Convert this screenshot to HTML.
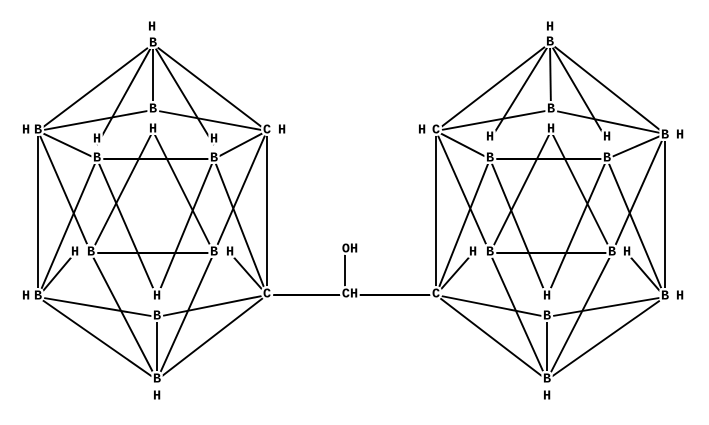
<!DOCTYPE html>
<html><head><meta charset="utf-8"><style>
html,body{margin:0;padding:0;background:#fff;}
svg{display:block}
text{font-family:"Liberation Mono","DejaVu Sans Mono",monospace;font-size:13.5px;font-weight:bold;fill:#000;text-anchor:middle;dominant-baseline:central;paint-order:stroke;stroke:#fff;stroke-width:5px;stroke-linejoin:round}
line{stroke:#000;stroke-width:1.9}
</style></head><body>
<svg width="709" height="425" viewBox="0 0 709 425">
<g>
<line x1="153" y1="44" x2="38" y2="131"/><line x1="153" y1="44" x2="153" y2="110"/><line x1="153" y1="44" x2="97" y2="145"/><line x1="153" y1="44" x2="214" y2="145"/><line x1="153" y1="44" x2="267" y2="131"/>
<line x1="153" y1="110" x2="38" y2="131"/><line x1="153" y1="110" x2="267" y2="131"/><line x1="153" y1="131" x2="91" y2="253"/><line x1="153" y1="131" x2="214" y2="253"/>
<line x1="38" y1="131" x2="97" y2="159"/><line x1="38" y1="131" x2="38" y2="297"/><line x1="38" y1="131" x2="91" y2="253"/>
<line x1="97" y1="159" x2="214" y2="159"/><line x1="97" y1="159" x2="38" y2="297"/><line x1="97" y1="159" x2="157" y2="297"/>
<line x1="214" y1="159" x2="267" y2="131"/><line x1="214" y1="159" x2="267" y2="295"/><line x1="214" y1="159" x2="157" y2="297"/>
<line x1="267" y1="131" x2="267" y2="295"/><line x1="267" y1="131" x2="214" y2="253"/>
<line x1="91" y1="253" x2="214" y2="253"/><line x1="75" y1="253" x2="38" y2="297"/><line x1="91" y1="253" x2="157" y2="380"/>
<line x1="230" y1="253" x2="267" y2="295"/><line x1="214" y1="253" x2="157" y2="380"/>
<line x1="38" y1="297" x2="157" y2="317"/><line x1="38" y1="297" x2="157" y2="380"/>
<line x1="267" y1="295" x2="157" y2="317"/><line x1="267" y1="295" x2="157" y2="380"/><line x1="157" y1="317" x2="157" y2="380"/>
<line x1="267" y1="295" x2="345" y2="295"/><line x1="345" y1="295" x2="436" y2="295"/><line x1="345" y1="250" x2="345" y2="295"/>
<line x1="550" y1="43" x2="665" y2="134"/><line x1="550" y1="43" x2="551" y2="110"/><line x1="550" y1="43" x2="607" y2="140"/><line x1="550" y1="43" x2="490" y2="140"/><line x1="550" y1="43" x2="436" y2="131"/>
<line x1="551" y1="110" x2="665" y2="134"/><line x1="551" y1="110" x2="436" y2="131"/><line x1="551" y1="131" x2="612" y2="253"/><line x1="551" y1="131" x2="490" y2="253"/>
<line x1="665" y1="134" x2="607" y2="159"/><line x1="665" y1="134" x2="665" y2="297"/><line x1="665" y1="134" x2="612" y2="253"/>
<line x1="607" y1="159" x2="490" y2="159"/><line x1="607" y1="159" x2="665" y2="297"/><line x1="607" y1="159" x2="547" y2="297"/>
<line x1="490" y1="159" x2="436" y2="131"/><line x1="490" y1="159" x2="436" y2="295"/><line x1="490" y1="159" x2="547" y2="297"/>
<line x1="436" y1="131" x2="436" y2="295"/><line x1="436" y1="131" x2="490" y2="253"/>
<line x1="612" y1="253" x2="490" y2="253"/><line x1="627" y1="253" x2="665" y2="297"/><line x1="612" y1="253" x2="547" y2="380"/>
<line x1="473" y1="253" x2="436" y2="295"/><line x1="490" y1="253" x2="547" y2="380"/>
<line x1="665" y1="297" x2="547" y2="317"/><line x1="665" y1="297" x2="547" y2="380"/>
<line x1="436" y1="295" x2="547" y2="317"/><line x1="436" y1="295" x2="547" y2="380"/><line x1="547" y1="317" x2="547" y2="380"/>
</g>
<g>
<text x="152" y="28">H</text><text x="153" y="44">B</text>
<text x="153" y="110">B</text><text x="153" y="130">H</text>
<text x="26" y="131">H</text><text x="38" y="131">B</text>
<text x="267" y="131">C</text><text x="282" y="131">H</text>
<text x="97" y="140">H</text><text x="97" y="159">B</text>
<text x="214" y="140">H</text><text x="214" y="159">B</text>
<text x="75" y="253">H</text><text x="91" y="253">B</text>
<text x="214" y="253">B</text><text x="230" y="253">H</text>
<text x="26" y="297">H</text><text x="38" y="297">B</text>
<text x="267" y="295">C</text>
<text x="157" y="297">H</text><text x="157" y="317">B</text>
<text x="157" y="380">B</text><text x="157" y="397">H</text>
<text x="350" y="250">OH</text><text x="350" y="295">CH</text>
<text x="550" y="28">H</text><text x="550" y="43">B</text>
<text x="551" y="110">B</text><text x="551" y="130">H</text>
<text x="665" y="136">B</text><text x="680" y="136">H</text>
<text x="422" y="131">H</text><text x="436" y="131">C</text>
<text x="607" y="138">H</text><text x="607" y="159">B</text>
<text x="490" y="138">H</text><text x="490" y="159">B</text>
<text x="612" y="253">B</text><text x="627" y="253">H</text>
<text x="473" y="253">H</text><text x="490" y="253">B</text>
<text x="665" y="297">B</text><text x="680" y="297">H</text>
<text x="436" y="295">C</text>
<text x="547" y="297">H</text><text x="547" y="317">B</text>
<text x="547" y="380">B</text><text x="547" y="397">H</text>
</g>
</svg>
</body></html>
